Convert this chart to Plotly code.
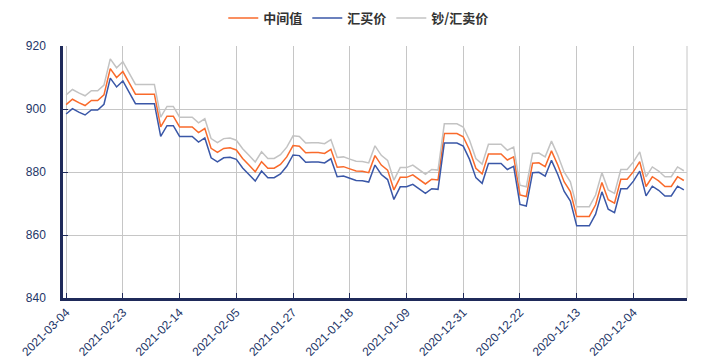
import plotly.graph_objects as go
import pandas as pd

# Categories: daily dates, newest first
dates = [d.strftime("%Y-%m-%d") for d in pd.date_range(end="2021-03-04", periods=99)][::-1]

mid = [901.4, 903.1, 902.0, 901.1, 902.7, 902.7, 904.5, 912.8, 910.0, 911.9,
       908.3, 904.7, 904.7, 904.7, 904.7, 894.3, 897.7, 897.7, 894.3, 894.3,
       894.3, 892.5, 893.8, 887.5, 886.2, 887.5, 887.7, 887.0, 884.3, 882.2,
       880.1, 883.3, 881.2, 881.2, 882.4, 884.8, 888.4, 888.2, 886.1, 886.2,
       886.2, 885.9, 887.2, 881.5, 881.7, 881.0, 880.3, 880.2, 879.8, 885.2,
       882.2, 880.6, 874.3, 878.3, 878.3, 879.1, 877.7, 876.2, 877.7, 877.5,
       892.2, 892.2, 892.2, 891.2, 887.0, 881.2, 879.4, 885.7, 885.7, 885.7,
       883.8, 884.8, 872.7, 872.2, 882.8, 882.9, 881.7, 886.7, 882.2, 876.9,
       873.8, 865.9, 865.9, 865.9, 869.6, 876.7, 871.2, 870.1, 877.7, 877.7,
       880.1, 883.3, 875.4, 878.5, 877.2, 875.4, 875.4, 878.5, 877.3]

buy = [898.4, 900.1, 899.0, 898.1, 899.7, 899.7, 901.5, 909.8, 907.0, 908.9,
       905.3, 901.7, 901.7, 901.7, 901.7, 891.3, 894.7, 894.7, 891.3, 891.3,
       891.3, 889.5, 890.8, 884.5, 883.2, 884.5, 884.7, 884.0, 881.3, 879.2,
       877.1, 880.3, 878.2, 878.2, 879.4, 881.8, 885.4, 885.2, 883.1, 883.2,
       883.2, 882.9, 884.2, 878.5, 878.7, 878.0, 877.3, 877.2, 876.8, 882.2,
       879.2, 877.6, 871.3, 875.3, 875.3, 876.1, 874.7, 873.2, 874.7, 874.5,
       889.2, 889.2, 889.2, 888.2, 884.0, 878.2, 876.4, 882.7, 882.7, 882.7,
       880.8, 881.8, 869.7, 869.2, 879.8, 879.9, 878.7, 883.7, 879.2, 873.9,
       870.8, 862.9, 862.9, 862.9, 866.6, 873.7, 868.2, 867.1, 874.7, 874.7,
       877.1, 880.3, 872.4, 875.5, 874.2, 872.4, 872.4, 875.5, 874.3]

sell = [904.5, 906.2, 905.1, 904.2, 905.8, 905.8, 907.6, 915.9, 913.1, 915.0,
        911.4, 907.8, 907.8, 907.8, 907.8, 897.4, 900.8, 900.8, 897.4, 897.4,
        897.4, 895.6, 896.9, 890.6, 889.3, 890.6, 890.8, 890.1, 887.4, 885.3,
        883.2, 886.4, 884.3, 884.3, 885.5, 887.9, 891.5, 891.3, 889.2, 889.3,
        889.3, 889.0, 890.3, 884.6, 884.8, 884.1, 883.4, 883.3, 882.9, 888.3,
        885.3, 883.7, 877.4, 881.4, 881.4, 882.2, 880.8, 879.3, 880.8, 880.6,
        895.3, 895.3, 895.3, 894.3, 890.1, 884.3, 882.5, 888.8, 888.8, 888.8,
        886.9, 887.9, 875.8, 875.3, 885.9, 886.0, 884.8, 889.8, 885.3, 880.0,
        876.9, 869.0, 869.0, 869.0, 872.7, 879.8, 874.3, 873.2, 880.8, 880.8,
        883.2, 886.4, 878.5, 881.6, 880.3, 878.5, 878.5, 881.6, 880.4]

tick_labels = dates[::9]
y_ticks = [840, 860, 880, 900, 920]

axis_color = "#1f2a5a"
label_color = "#243668"

fig = go.Figure()
fig.add_trace(go.Scatter(x=dates, y=mid, name="中间值", mode="lines",
                         line=dict(color="#f96a2b", width=1.5)))
fig.add_trace(go.Scatter(x=dates, y=buy, name="汇买价", mode="lines",
                         line=dict(color="#3a57a7", width=1.5)))
fig.add_trace(go.Scatter(x=dates, y=sell, name="钞/汇卖价", mode="lines",
                         line=dict(color="#c3c3c3", width=1.5)))

fig.update_layout(
    width=716, height=356,
    margin=dict(l=55, r=37, t=38, b=66, autoexpand=False),
    paper_bgcolor="white", plot_bgcolor="white",
    showlegend=True,
    legend=dict(orientation="h", x=0.474, xanchor="center",
                yref="container", y=0.972, yanchor="middle",
                font=dict(family="Noto Sans CJK SC", size=13, color="#333333", weight="bold"),
                itemwidth=30, tracegroupgap=0),
    font=dict(family="Liberation Sans", size=12, color=label_color),
)
fig.update_xaxes(
    type="category", range=[-0.5, len(dates) - 0.5],
    tickvals=tick_labels, ticktext=tick_labels, tickangle=-45,
    showline=True, linecolor=axis_color, linewidth=2.5,
    ticks="inside", ticklen=5, tickcolor=axis_color, tickwidth=1,
    showgrid=True, gridcolor="#c6c6c6", gridwidth=1,
    tickfont=dict(family="Liberation Sans", size=12, color=label_color),
    zeroline=False, automargin=False,
)
fig.update_yaxes(
    range=[840, 920], tickvals=y_ticks,
    showline=True, linecolor=axis_color, linewidth=2.5,
    ticks="inside", ticklen=5, tickcolor=axis_color, tickwidth=1,
    showgrid=True, gridcolor="#c6c6c6", gridwidth=1,
    tickfont=dict(family="Liberation Sans", size=12, color=label_color),
    ticklabelstandoff=12, zeroline=False, automargin=False,
)
fig.add_shape(type="line", xref="paper", yref="paper", x0=1, x1=1, y0=0, y1=1,
              line=dict(color="#c6c6c6", width=1))

fig.write_html("out.html")
